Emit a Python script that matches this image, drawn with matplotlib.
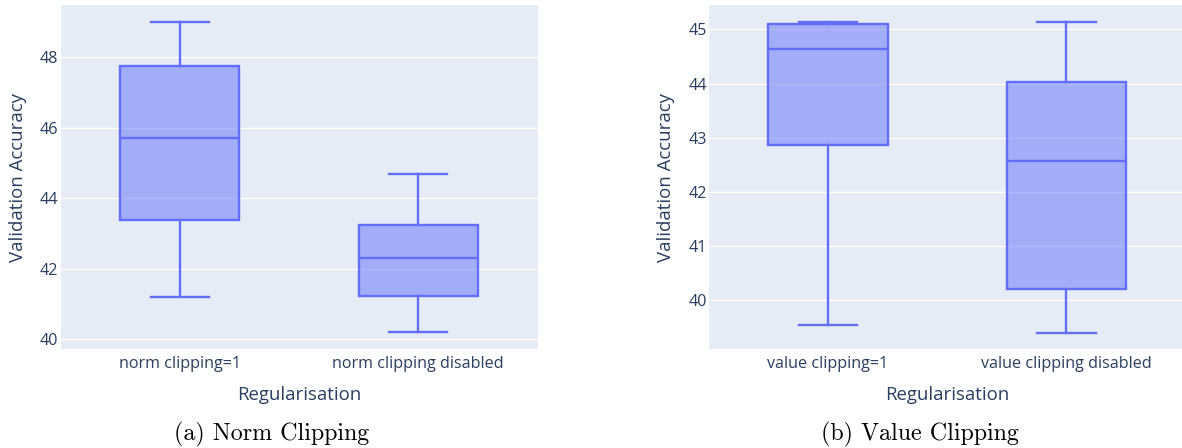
import matplotlib
matplotlib.use("Agg")
import matplotlib.pyplot as plt

# Box statistics (validation accuracy, %) per regularisation setting
norm_labels = ["norm clipping=1", "norm clipping disabled"]
norm_low = [41.20, 40.21]
norm_q1 = [43.38, 41.22]
norm_med = [45.70, 42.31]
norm_q3 = [47.75, 43.23]
norm_high = [48.99, 44.68]

value_labels = ["value clipping=1", "value clipping disabled"]
value_low = [39.55, 39.40]
value_q1 = [42.86, 40.20]
value_med = [44.64, 42.57]
value_q3 = [45.10, 44.03]
value_high = [45.13, 45.13]

norm_yticks = [40, 42, 44, 46, 48]
value_yticks = [40, 41, 42, 43, 44, 45]

W, H = 1182, 448
DPI = 100
BOX_COLOR = "#636efa"
BG = "#E5ECF6"
TEXT = "#2a3f5f"
SANS = "Open Sans"

fig = plt.figure(figsize=(W / DPI, H / DPI), dpi=DPI)


def px_rect(x0, x1, y_top, y_bot):
    return [x0 / W, 1 - y_bot / H, (x1 - x0) / W, (y_bot - y_top) / H]


def draw_panel(rect, labels, low, q1, med, q3, high, ylim, yticks):
    ax = fig.add_axes(rect)
    ax.set_facecolor(BG)
    stats = [
        dict(whislo=l, q1=a, med=m, q3=b, whishi=h, fliers=[], label=lab)
        for lab, l, a, m, b, h in zip(labels, low, q1, med, q3, high)
    ]
    lw = 1.7
    ax.bxp(
        stats,
        positions=range(len(stats)),
        widths=0.5,
        capwidths=0.245,
        patch_artist=True,
        showfliers=False,
        boxprops=dict(facecolor=(0.388, 0.431, 0.980, 0.5), edgecolor=BOX_COLOR, linewidth=lw),
        medianprops=dict(color=BOX_COLOR, linewidth=lw),
        whiskerprops=dict(color=BOX_COLOR, linewidth=lw),
        capprops=dict(color=BOX_COLOR, linewidth=lw),
        zorder=3,
    )
    ax.set_xlim(-0.5, len(stats) - 0.5)
    ax.set_ylim(*ylim)
    ax.set_yticks(yticks)
    ax.set_xticks(range(len(stats)))
    ax.set_xticklabels(labels)
    for s in ax.spines.values():
        s.set_visible(False)
    ax.grid(axis="y", color="white", linewidth=1.0, zorder=0)
    ax.set_axisbelow(True)
    ax.tick_params(axis="both", length=0, colors=TEXT, labelsize=11.6)
    ax.tick_params(axis="y", pad=1.5)
    ax.tick_params(axis="x", pad=5)
    for t in ax.get_xticklabels() + ax.get_yticklabels():
        t.set_fontfamily(SANS)
    return ax


draw_panel(px_rect(60.5, 537.5, 5, 349), norm_labels, norm_low, norm_q1, norm_med,
           norm_q3, norm_high, (39.72, 49.48), norm_yticks)
draw_panel(px_rect(708.8, 1185.5, 5, 349), value_labels, value_low, value_q1, value_med,
           value_q3, value_high, (39.10, 45.45), value_yticks)

# Axis titles
for cx in (299, 947):
    fig.text(cx / W, 1 - 400 / H, "Regularisation", ha="center", va="baseline",
             fontsize=13.4, color=TEXT, family=SANS)
for cx in (18.5, 666):
    fig.text(cx / W, 1 - 177 / H, "Validation Accuracy", ha="center", va="center",
             rotation=90, fontsize=13.4, color=TEXT, family=SANS)

# Sub-figure captions
fig.text(272 / W, 1 - 440 / H, "(a) Norm Clipping", ha="center", va="baseline",
         fontsize=17.3, color="black", family="cmr10")
fig.text(920 / W, 1 - 440 / H, "(b) Value Clipping", ha="center", va="baseline",
         fontsize=17.3, color="black", family="cmr10")

fig.savefig("out.png", dpi=DPI, facecolor="white")
